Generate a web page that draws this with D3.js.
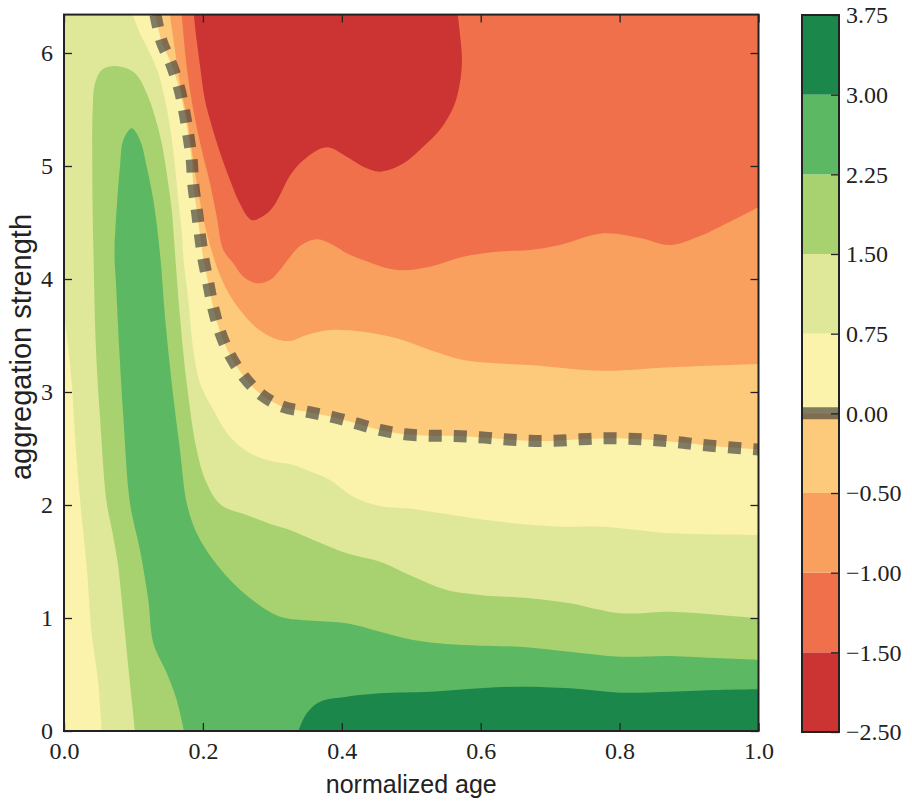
<!DOCTYPE html>
<html>
<head>
<meta charset="utf-8">
<script src="https://cdn.jsdelivr.net/npm/d3@7"></script>
<style>
  body { margin: 0; background: #fff; }
  .tick text { font-family: "Liberation Serif", serif; font-size: 24px; fill: #222; }
  .axis-title { font-family: "Liberation Sans", Arial, sans-serif; font-size: 25px; fill: #222; }
</style>
</head>
<body>
<svg id="chart" width="912" height="801"></svg>
<script>
'use strict';

// contour levels = colour bar boundaries
var levels = [-2.5, -1.5, -1.0, -0.5, 0, 0.75, 1.5, 2.25, 3.0, 3.75]
var bandColors = ['#cc3333', '#f0704b', '#f9a05e', '#fdc97b', '#fbf2ab', '#dfe899', '#a8d26f', '#5cb863', '#1b874b']

var xTicks = [0, 0.2, 0.4, 0.6, 0.8, 1.0]
var yTicks = [0, 1, 2, 3, 4, 5, 6]
var yMax = 6.34

// contour lines, as [normalized age, aggregation strength]
var contourM150 = [[0.187,6.34],[0.191,6.115],[0.196,5.879],[0.203,5.584],[0.213,5.348],[0.225,5.112],[0.239,4.876],[0.253,4.670],[0.270,4.522],[0.287,4.558],[0.300,4.628],[0.311,4.743],[0.325,4.912],[0.345,5.053],[0.378,5.165],[0.407,5.082],[0.431,4.994],[0.455,4.950],[0.489,5.024],[0.517,5.171],[0.541,5.319],[0.561,5.525],[0.570,5.732],[0.573,5.938],[0.570,6.174],[0.567,6.34]]

var contourM100 = [[0.1695,6.34],[0.1767,5.879],[0.1862,5.496],[0.1983,5.142],[0.2102,4.847],[0.2199,4.551],[0.2294,4.257],[0.2438,4.139],[0.2582,4.020],[0.2775,3.962],[0.2966,3.991],[0.3110,4.080],[0.3254,4.195],[0.3398,4.292],[0.3639,4.351],[0.3873,4.301],[0.4071,4.227],[0.4305,4.168],[0.4791,4.080],[0.5270,4.109],[0.5745,4.197],[0.6235,4.242],[0.6710,4.257],[0.7142,4.301],[0.7765,4.404],[0.8294,4.363],[0.8726,4.301],[0.9158,4.381],[0.9446,4.463],[1,4.635]]

var contourM050 = [[0.1526,6.34],[0.1598,6.027],[0.1670,5.732],[0.1767,5.436],[0.1839,5.142],[0.1911,4.847],[0.2001,4.551],[0.2102,4.301],[0.2217,4.080],[0.2361,3.885],[0.2534,3.726],[0.2775,3.566],[0.3014,3.478],[0.3254,3.451],[0.3495,3.504],[0.3830,3.549],[0.4310,3.534],[0.4790,3.475],[0.5270,3.372],[0.5749,3.283],[0.6230,3.254],[0.6710,3.239],[0.7765,3.188],[0.8726,3.219],[1,3.248]]

var contourZero = [[0.1317,6.34],[0.1407,6.100],[0.1541,5.909],[0.1660,5.688],[0.1728,5.496],[0.1790,5.274],[0.1839,5.053],[0.1862,4.832],[0.1911,4.611],[0.1958,4.389],[0.2006,4.183],[0.2078,3.962],[0.2150,3.741],[0.2246,3.534],[0.2390,3.327],[0.2592,3.135],[0.2847,2.973],[0.3149,2.870],[0.3495,2.826],[0.3855,2.781],[0.4204,2.723],[0.4550,2.664],[0.4910,2.626],[0.5270,2.613],[0.5630,2.611],[0.5990,2.599],[0.6350,2.581],[0.6700,2.569],[0.7070,2.569],[0.7430,2.581],[0.7790,2.590],[0.8125,2.587],[0.8485,2.575],[0.8845,2.555],[0.9197,2.531],[0.9565,2.511],[1,2.491]]

var contourP075Right = [[0.0989,6.34],[0.1094,6.174],[0.1238,5.997],[0.1358,5.820],[0.1454,5.584],[0.1541,5.289],[0.1598,4.994],[0.1646,4.699],[0.1695,4.404],[0.1718,4.197],[0.1790,3.814],[0.1862,3.372],[0.1958,3.077],[0.2150,2.841],[0.2390,2.604],[0.2678,2.458],[0.3014,2.383],[0.3254,2.363],[0.3495,2.310],[0.3830,2.221],[0.4166,2.073],[0.4550,1.991],[0.5025,1.965],[0.5749,1.896],[0.6469,1.838],[0.7142,1.808],[0.7765,1.808],[0.8726,1.750],[1,1.735]]

var contourP075Left = [[0,3.708],[0.0029,3.549],[0.0058,3.416],[0.0111,3.080],[0.0173,2.487],[0.0238,2.000],[0.0327,1.454],[0.0399,0.865],[0.0494,0.422],[0.0543,0]]

var contourP150 = [[0.1022,0],[0.0926,0.569],[0.0831,1.159],[0.0778,1.469],[0.0691,1.779],[0.0615,2.018],[0.0518,2.781],[0.0461,3.372],[0.0425,4.212],[0.0407,4.994],[0.0413,5.496],[0.0446,5.732],[0.0543,5.850],[0.0710,5.885],[0.0903,5.865],[0.1047,5.805],[0.1191,5.643],[0.1310,5.436],[0.1407,5.201],[0.1479,4.935],[0.1551,4.611],[0.1598,4.230],[0.1670,3.666],[0.1767,3.077],[0.1911,2.487],[0.2055,2.192],[0.2261,2.000],[0.2631,1.912],[0.3014,1.823],[0.3254,1.779],[0.3590,1.690],[0.4071,1.573],[0.4550,1.498],[0.5030,1.365],[0.5510,1.248],[0.5990,1.204],[0.6710,1.174],[0.7286,1.130],[0.8006,1.042],[0.8726,1.056],[0.9446,1.027],[1,0.997]]

var contourP225 = [[0.1728,0],[0.1623,0.274],[0.1479,0.513],[0.1286,0.779],[0.1214,1.159],[0.1094,1.602],[0.0950,2.018],[0.0854,2.781],[0.0796,3.372],[0.0749,3.962],[0.0727,4.230],[0.0767,4.699],[0.0806,4.994],[0.0854,5.230],[0.0975,5.334],[0.1094,5.230],[0.1191,4.994],[0.1286,4.699],[0.1382,4.230],[0.1454,3.666],[0.1551,3.077],[0.1670,2.487],[0.1767,2.018],[0.1911,1.750],[0.2150,1.513],[0.2438,1.307],[0.2775,1.130],[0.3110,1.012],[0.3590,0.976],[0.4071,0.953],[0.4550,0.879],[0.5030,0.805],[0.5510,0.770],[0.5990,0.755],[0.6566,0.746],[0.7286,0.702],[0.8006,0.658],[0.8726,0.664],[0.9446,0.643],[1,0.628]]

var contourP300 = [[0.3374,0],[0.3495,0.157],[0.3686,0.259],[0.4071,0.304],[0.4550,0.334],[0.5270,0.348],[0.5990,0.378],[0.6566,0.392],[0.7286,0.378],[0.8006,0.339],[0.8726,0.348],[0.9446,0.363],[1,0.369]]

var svg = d3.select('#chart')

var x = d3.scaleLinear().domain([0, 1]).range([64, 758.5])
var y = d3.scaleLinear().domain([0, 6]).range([731, 53])
// colour bar: every band gets the same height
var cb = d3.scaleLinear().domain(levels).range(levels.map(function(d, i) { return 732 - i * 717 / 9 }))

var plotTop = y(yMax)
var plotBottom = y(0)

svg.append('defs').append('clipPath').attr('id', 'plot-clip')
    .append('rect')
    .attr('x', x(0)).attr('y', plotTop)
    .attr('width', x(1) - x(0)).attr('height', plotBottom - plotTop)

var plot = svg.append('g').attr('clip-path', 'url(#plot-clip)')

var contourLine = d3.line()
    .x(function(d) { return x(d[0]) })
    .y(function(d) { return y(d[1]) })
    .curve(d3.curveCatmullRom.alpha(0.5))

function regionPath(points, corners) {
    var tail = corners.map(function(c) { return 'L' + x(c[0]) + ',' + y(c[1]) }).join('')
    return contourLine(points) + tail + 'Z'
}

// painter's order: each region is the part of the plot below the given level
var toTopRight = [[1, yMax]]
var aroundLeft = [[1, yMax], [0, yMax], [0, 0]]
var regions = [
    { line: contourP300, corners: aroundLeft, band: 7 },
    { line: contourP225, corners: aroundLeft, band: 6 },
    { line: contourP150, corners: aroundLeft, band: 5 },
    { line: contourP075Right, corners: toTopRight, band: 4 },
    { line: contourP075Left, corners: [[0, 0]], band: 4 },
    { line: contourZero, corners: toTopRight, band: 3 },
    { line: contourM050, corners: toTopRight, band: 2 },
    { line: contourM100, corners: toTopRight, band: 1 },
    { line: contourM150, corners: [], band: 0 }
]

plot.append('rect')
    .attr('x', x(0)).attr('y', plotTop)
    .attr('width', x(1) - x(0)).attr('height', plotBottom - plotTop)
    .attr('fill', bandColors[8])

plot.selectAll('path.band')
    .data(regions)
    .enter().append('path')
    .attr('class', 'band')
    .attr('d', function(d) { return regionPath(d.line, d.corners) })
    .attr('fill', function(d) { return bandColors[d.band] })

// the zero contour, drawn thick and dashed
plot.append('path')
    .attr('d', contourLine(contourZero))
    .attr('fill', 'none')
    .attr('stroke', '#333')
    .attr('stroke-opacity', 0.62)
    .attr('stroke-width', 12)
    .attr('stroke-dasharray', '13,12')

function styleAxis(g) {
    g.select('.domain').remove()
    g.attr('color', '#222')
    g.selectAll('.tick line').attr('stroke-width', 1.3)
}

svg.append('g')
    .attr('transform', 'translate(0,' + plotBottom + ')')
    .call(d3.axisBottom(x).tickValues(xTicks).tickFormat(d3.format('.1f'))
        .tickSizeInner(-8).tickSizeOuter(0).tickPadding(11))
    .call(styleAxis)

svg.append('g')
    .attr('transform', 'translate(0,' + plotTop + ')')
    .call(d3.axisTop(x).tickValues(xTicks).tickFormat('').tickSizeInner(-8).tickSizeOuter(0))
    .call(styleAxis)

svg.append('g')
    .attr('transform', 'translate(' + x(0) + ',0)')
    .call(d3.axisLeft(y).tickValues(yTicks).tickFormat(d3.format('d'))
        .tickSizeInner(-8).tickSizeOuter(0).tickPadding(11))
    .call(styleAxis)

svg.append('g')
    .attr('transform', 'translate(' + x(1) + ',0)')
    .call(d3.axisRight(y).tickValues(yTicks).tickFormat('').tickSizeInner(-8).tickSizeOuter(0))
    .call(styleAxis)

svg.append('rect')
    .attr('x', x(0)).attr('y', plotTop)
    .attr('width', x(1) - x(0)).attr('height', plotBottom - plotTop)
    .attr('fill', 'none').attr('stroke', '#222').attr('stroke-width', 2)

svg.append('text')
    .attr('class', 'axis-title')
    .attr('x', (x(0) + x(1)) / 2)
    .attr('y', 793)
    .attr('text-anchor', 'middle')
    .text('normalized age')

svg.append('text')
    .attr('class', 'axis-title')
    .attr('transform', 'translate(31,347) rotate(-90)')
    .attr('text-anchor', 'middle')
    .style('font-size', '29px')
    .text('aggregation strength')

// colour bar
var cbLeft = 802
var cbRight = 839
var colorbar = svg.append('g')

colorbar.selectAll('rect.band')
    .data(bandColors)
    .enter().append('rect')
    .attr('class', 'band')
    .attr('x', cbLeft)
    .attr('y', function(d, i) { return cb(levels[i + 1]) })
    .attr('width', cbRight - cbLeft)
    .attr('height', function(d, i) { return cb(levels[i]) - cb(levels[i + 1]) })
    .attr('fill', function(d) { return d })

colorbar.append('line')
    .attr('x1', cbLeft).attr('x2', cbRight)
    .attr('y1', cb(0)).attr('y2', cb(0))
    .attr('stroke', '#333')
    .attr('stroke-opacity', 0.62)
    .attr('stroke-width', 12)

colorbar.append('g')
    .attr('transform', 'translate(' + cbRight + ',0)')
    .call(d3.axisRight(cb).tickValues(levels).tickFormat(d3.format('.2f'))
        .tickSizeInner(-8).tickSizeOuter(0).tickPadding(7))
    .call(styleAxis)

colorbar.append('rect')
    .attr('x', cbLeft).attr('y', cb(levels[levels.length - 1]))
    .attr('width', cbRight - cbLeft)
    .attr('height', cb(levels[0]) - cb(levels[levels.length - 1]))
    .attr('fill', 'none').attr('stroke', '#222').attr('stroke-width', 2)
</script>
</body>
</html>
